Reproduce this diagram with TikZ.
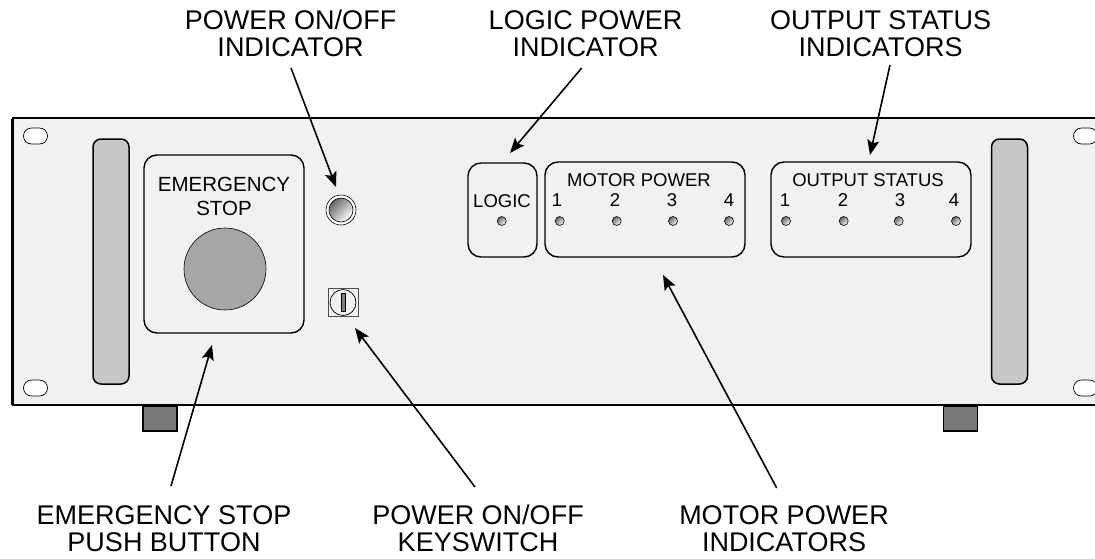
\documentclass[tikz,border=0pt]{standalone}
\usepackage{fontspec}
\setmainfont{Liberation Sans}
\usetikzlibrary{arrows.meta,positioning}
\definecolor{panelgray}{gray}{0.945}
\definecolor{handlegray}{gray}{0.78}
\definecolor{buttongray}{gray}{0.65}
\definecolor{footgray}{gray}{0.47}
\begin{document}
\begin{tikzpicture}[x=1pt,y=-1pt,
    lab/.style={align=center,font=\fontsize{27}{27}\selectfont,inner sep=0pt},
    plab/.style={align=center,font=\fontsize{18.5}{20}\selectfont,inner sep=0pt},
    elab/.style={align=center,font=\fontsize{20.5}{24}\selectfont,inner sep=0pt},
    box/.style={draw,line width=1.4pt,rounded corners=13pt,fill=panelgray,inner sep=0pt},
    handle/.style={draw,line width=1.5pt,rounded corners=8pt,fill=handlegray,inner sep=0pt,minimum width=36pt,minimum height=245pt},
    slot/.style={draw,line width=.7pt,fill=white,rounded corners=8pt,inner sep=0pt,minimum width=24pt,minimum height=16pt},
    foot/.style={draw,line width=1.2pt,fill=footgray,inner sep=0pt,minimum width=34pt,minimum height=25pt},
    glass/.style={circle,draw,line width=.6pt,inner sep=0pt,top color=black!60,bottom color=white,shading angle=45},
    led/.style={glass,minimum size=9pt},
    ar/.style={-{Stealth[length=15pt,width=12pt,inset=3pt]},line width=1.6pt}]
    \useasboundingbox (0,0) rectangle (1095,558);
    % feet
    \node[foot] (footl) at (160,418.5) {};
    \node[foot] (footr) at (960.5,418.5) {};
    % panel
    \fill[panelgray] (12,118) rectangle (1095,405);
    \draw[line width=1.5pt] (1095,118) -- (13,118) -- (13,405) -- (1095,405);
    \draw[line width=.6pt] (11,118.5) -- (11,405);
    \node[slot] (slottl) at (35.5,136) {};
    \node[slot] (slotbl) at (35.5,388) {};
    \node[slot] (slottr) at (1085.5,136) {};
    \node[slot] (slotbr) at (1085.5,388) {};
    \node[handle] (handlel) at (111,261.5) {};
    \node[handle] (handler) at (1009.5,261.5) {};
    % emergency stop
    \node[box,minimum width=160pt,minimum height=178pt] (estop) at (224,244) {};
    \node[elab] (estoptxt) at (224,196) {EMERGENCY\\STOP};
    \node[circle,draw,line width=.6pt,fill=buttongray,minimum size=82pt,inner sep=0pt] (ebtn) at (225,269) {};
    % indicator and key
    \node[circle,draw,line width=.6pt,fill=white,minimum size=30pt,inner sep=0pt] (pwrring) at (341,210) {};
    \node[glass,minimum size=24pt] (pwrled) at (341,210) {};
    \node[draw=black!70,line width=.9pt,minimum width=30pt,minimum height=28.5pt,inner sep=0pt] (keybox) at (343,302.5) {};
    \node[circle,draw,line width=.7pt,minimum size=26pt,inner sep=0pt] (keyring) at (343,302.5) {};
    \node[draw,line width=.5pt,fill=gray,minimum width=4pt,minimum height=18pt,inner sep=0pt] (keyslot) at (343,302.5) {};
    % groups
    \node[box,minimum width=69pt,minimum height=94pt] (logic) at (502.5,210) {};
    \node[box,minimum width=200pt,minimum height=95pt] (motor) at (645,209.5) {};
    \node[box,minimum width=200pt,minimum height=95pt] (output) at (871,209.5) {};
    \node[plab] (logictxt) at (502,201) {LOGIC};
    \node[led] (ledl) at (501.7,221) {};
    \node[plab] (motortxt) at (639,180) {MOTOR POWER};
    \node[plab] (outputtxt) at (868,180) {OUTPUT STATUS};
    \foreach \i/\xa/\xb/\xc/\xd in {1/557/559.7/785/786,2/615/616.7/843/843.7,3/672/673/900/898.7,4/729/729/954/956}{
      \node[plab] (mnum\i) at (\xa,200.5) {\i};
      \node[led] (mled\i) at (\xb,221) {};
      \node[plab] (onum\i) at (\xc,200.5) {\i};
      \node[led] (oled\i) at (\xd,221) {};
    }
    % captions
    \node[lab] (capa) at (290.5,33.5) {POWER ON/OFF\\INDICATOR};
    \node[lab] (capb) at (585.5,33.5) {LOGIC POWER\\INDICATOR};
    \node[lab] (capc) at (880.5,33.5) {OUTPUT STATUS\\INDICATORS};
    \node[lab] (capd) at (164,528.5) {EMERGENCY STOP\\PUSH BUTTON};
    \node[lab] (cape) at (478,528.5) {POWER ON/OFF\\KEYSWITCH};
    \node[lab] (capf) at (784,528.5) {MOTOR POWER\\INDICATORS};
    \coordinate (froma) at (291,68);
    \coordinate (fromb) at (581.7,68);
    \coordinate (fromc) at (890,65);
    \coordinate (fromd) at (171,486);
    \coordinate (frome) at (475,487);
    \coordinate (fromf) at (776.7,488);
    \coordinate (tipa) at (336,187);
    \coordinate (tipb) at (510,153);
    \coordinate (tipc) at (870,155);
    \coordinate (tipd) at (212,345);
    \coordinate (tipe) at (355,328);
    \coordinate (tipf) at (663,275);
    \draw[ar] (froma) -- (tipa);
    \draw[ar] (fromb) -- (tipb);
    \draw[ar] (fromc) -- (tipc);
    \draw[ar] (fromd) -- (tipd);
    \draw[ar] (frome) -- (tipe);
    \draw[ar] (fromf) -- (tipf);
\end{tikzpicture}
\end{document}
